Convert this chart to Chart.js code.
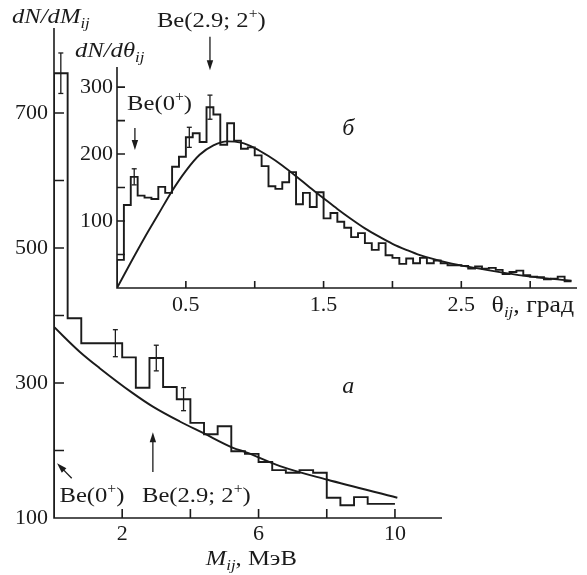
<!DOCTYPE html>
<html>
<head>
<meta charset="utf-8">
<script src="https://cdn.jsdelivr.net/npm/chart.js@4.4.0/dist/chart.umd.min.js"></script>
<style>
  html, body { margin: 0; padding: 0; background: #fff; }
  #wrap { position: relative; width: 587px; height: 575px; }
  #wrap canvas { position: absolute; left: 0; top: 0; }
</style>
</head>
<body>
<div id="wrap">
  <canvas id="massChart" width="587" height="575"></canvas>
  <canvas id="angleChart" width="587" height="575"></canvas>
</div>
<script>
var ink = '#1b1b1b';
var serif = '"Liberation Serif", "Times New Roman", serif';

// panel a: dN/dM_ij, bins of 0.4 MeV
var massBinWidth = 0.4;
var massCounts = [759, 396, 359, 359, 359, 338, 293, 337, 294, 276, 241, 224, 236,
                  199, 195, 183, 171, 167, 171, 167, 130, 119, 131, 121, 121];
var massErrX = [0.2, 1.8, 3.0, 3.8];
var massErrY = [759, 359, 337, 276];
var massErr = [30, 20, 19, 17];
var massFitX = [0, 0.76, 1.34, 2.31, 2.9, 3.69, 4.37, 5.25, 5.66, 6.63, 8.0, 10.07];
var massFitY = [383, 346, 322, 285, 265, 243, 226, 204, 197, 177, 157, 130];
var massTicksX = [2, 4, 6, 8, 10];
var massLabelsX = [2, 6, 10];
var massTicksY = [100, 200, 300, 400, 500, 600, 700];
var massLabelsY = [100, 300, 500, 700];

// panel б: dN/dθ_ij, bins of 0.05 deg
var angleBinWidth = 0.05;
var angleCounts = [42, 124, 166, 138, 135, 133, 151, 142, 181, 196, 225, 231, 218, 270, 259,
                   214, 246, 220, 208, 210, 198, 182, 152, 148, 158, 173, 125, 142, 121, 143,
                   104, 112, 99, 90, 76, 82, 67, 57, 67, 49, 45, 36, 44, 37, 45, 37, 41, 37,
                   34, 34, 33, 29, 32, 29, 30, 27, 21, 24, 26, 19, 17, 16, 13, 14, 17, 10];
var angleErrX = [0.125, 0.525, 0.675];
var angleErrY = [166, 225, 270];
var angleErr = [12, 15, 18];
var angleFitX = [0, 0.1, 0.2, 0.3, 0.4, 0.5, 0.6, 0.7, 0.8, 0.9, 1.0, 1.1, 1.2, 1.3, 1.4,
                 1.5, 1.6, 1.7, 1.8, 1.9, 2.0, 2.1, 2.2, 2.4, 2.6, 2.8, 3.0, 3.3];
var angleFitY = [0, 38, 75, 110, 145, 175, 199, 213, 219, 217, 209, 197, 183, 167, 150,
                 134, 118, 103, 89, 77, 66, 57, 49, 38, 30, 23, 17, 11];
var angleTicksX = [0.5, 1, 1.5, 2, 2.5, 3];
var angleLabelsX = [0.5, 1.5, 2.5];
var angleTicksY = [0, 50, 100, 150, 200, 250, 300];
var angleLabelsY = [100, 200, 300];

function histPoints(counts, width, base) {
    var pts = [{ x: 0, y: base }];
    counts.forEach(function (c, i) { pts.push({ x: (i + 1) * width, y: c }); });
    return pts;
}

function fitPoints(xs, ys) {
    return xs.map(function (x, i) { return { x: x, y: ys[i] }; });
}

function errorSets(xs, ys, es) {
    return xs.map(function (x, i) {
        return {
            data: [{ x: x, y: ys[i] - es[i] }, { x: x, y: ys[i] + es[i] }],
            borderColor: ink, borderWidth: 1.3,
            pointStyle: 'line', pointRadius: 2.5, pointBorderColor: ink, pointBorderWidth: 1.3
        };
    });
}

function axis(min, max, ticks, labels, pad, fit) {
    return {
        type: 'linear', min: min, max: max,
        afterBuildTicks: function (s) { s.ticks = ticks.map(function (v) { return { value: v }; }); },
        afterFit: fit,
        grid: { display: false, drawTicks: false },
        border: { display: false },
        ticks: {
            autoSkip: false, maxRotation: 0, padding: pad, color: ink,
            font: { family: serif, size: 22 },
            callback: function (v) { return labels.indexOf(v) >= 0 ? String(v) : ''; }
        }
    };
}

// text runs with sub/superscripts, slightly widened like the scanned serif
function rich(ctx, x, y, parts) {
    var cx = 0;
    ctx.save();
    ctx.translate(x, y);
    ctx.scale(1.12, 1);
    parts.forEach(function (p) {
        ctx.font = (p[2] || '') + ' ' + p[1] + 'px ' + serif;
        ctx.fillText(p[0], cx, p[3] || 0);
        cx += ctx.measureText(p[0]).width;
    });
    ctx.restore();
}

function arrow(ctx, x1, y1, x2, y2) {
    var a = Math.atan2(y2 - y1, x2 - x1), len = 10, half = 3.2;
    ctx.beginPath();
    ctx.moveTo(x1, y1);
    ctx.lineTo(x2 - Math.cos(a) * len * 0.6, y2 - Math.sin(a) * len * 0.6);
    ctx.stroke();
    ctx.beginPath();
    ctx.moveTo(x2, y2);
    ctx.lineTo(x2 - len * Math.cos(a) + half * Math.sin(a), y2 - len * Math.sin(a) - half * Math.cos(a));
    ctx.lineTo(x2 - len * Math.cos(a) - half * Math.sin(a), y2 - len * Math.sin(a) + half * Math.cos(a));
    ctx.closePath();
    ctx.fill();
}

// axis lines and inward ticks
function drawFrame(chart, tickX, tickY) {
    var ctx = chart.ctx, a = chart.chartArea, xs = chart.scales.x, ys = chart.scales.y;
    ctx.save();
    ctx.strokeStyle = ink;
    ctx.lineWidth = 1.6;
    ctx.beginPath();
    ctx.moveTo(a.left, a.top);
    ctx.lineTo(a.left, a.bottom);
    ctx.lineTo(a.right, a.bottom);
    xs.ticks.forEach(function (t) {
        var px = xs.getPixelForValue(t.value);
        ctx.moveTo(px, a.bottom);
        ctx.lineTo(px, a.bottom - tickX);
    });
    ys.ticks.forEach(function (t) {
        if (t.value === ys.min) return;
        var py = ys.getPixelForValue(t.value);
        ctx.moveTo(a.left, py);
        ctx.lineTo(a.left + tickY, py);
    });
    ctx.stroke();
    ctx.restore();
}

var massDecor = {
    id: 'massDecor',
    afterDraw: function (chart) {
        var ctx = chart.ctx, a = chart.chartArea, xs = chart.scales.x, ys = chart.scales.y;
        drawFrame(chart, 9, 10);
        ctx.save();
        ctx.fillStyle = ink;
        ctx.strokeStyle = ink;
        ctx.lineWidth = 1.3;
        rich(ctx, a.left - 42, a.top - 5, [['dN/dM', 22, 'italic'], ['ij', 15, 'italic', 5]]);
        rich(ctx, xs.getPixelForValue(4.45), a.bottom + 47,
             [['M', 22, 'italic'], ['ij', 15, 'italic', 5], [', МэВ', 22]]);
        var base = ys.getPixelForValue(124);
        rich(ctx, xs.getPixelForValue(0.16), base, [['Be(0', 22], ['+', 14, '', -9], [')', 22]]);
        rich(ctx, xs.getPixelForValue(2.58), base, [['Be(2.9; 2', 22], ['+', 14, '', -9], [')', 22]]);
        arrow(ctx, xs.getPixelForValue(0.52), ys.getPixelForValue(159),
                   xs.getPixelForValue(0.09), ys.getPixelForValue(181));
        arrow(ctx, xs.getPixelForValue(2.9), ys.getPixelForValue(168),
                   xs.getPixelForValue(2.9), ys.getPixelForValue(227));
        ctx.textAlign = 'center';
        ctx.font = 'italic 24px ' + serif;
        ctx.fillText('а', xs.getPixelForValue(8.63), ys.getPixelForValue(285));
        ctx.restore();
    }
};

var angleDecor = {
    id: 'angleDecor',
    afterDraw: function (chart) {
        var ctx = chart.ctx, a = chart.chartArea, xs = chart.scales.x, ys = chart.scales.y;
        drawFrame(chart, 7, 8);
        ctx.save();
        ctx.fillStyle = ink;
        ctx.strokeStyle = ink;
        ctx.lineWidth = 1.3;
        rich(ctx, a.left - 42, a.top - 10, [['dN/dθ', 22, 'italic'], ['ij', 15, 'italic', 5]]);
        rich(ctx, xs.getPixelForValue(2.72), a.bottom + 24,
             [['θ', 23], ['ij', 15, 'italic', 5], [', град', 23]]);
        rich(ctx, xs.getPixelForValue(0.29), ys.getPixelForValue(390),
             [['Be(2.9; 2', 22], ['+', 14, '', -9], [')', 22]]);
        rich(ctx, xs.getPixelForValue(0.073), ys.getPixelForValue(266),
             [['Be(0', 22], ['+', 14, '', -9], [')', 22]]);
        arrow(ctx, xs.getPixelForValue(0.675), ys.getPixelForValue(375),
                   xs.getPixelForValue(0.675), ys.getPixelForValue(325));
        arrow(ctx, xs.getPixelForValue(0.13), ys.getPixelForValue(239),
                   xs.getPixelForValue(0.13), ys.getPixelForValue(206));
        ctx.textAlign = 'center';
        ctx.font = 'italic 24px ' + serif;
        ctx.fillText('б', xs.getPixelForValue(1.68), ys.getPixelForValue(228));
        ctx.restore();
    }
};

var stepStyle = { stepped: 'after', borderColor: ink, borderWidth: 1.9, pointRadius: 0, fill: false };
var fitStyle = { cubicInterpolationMode: 'monotone', borderColor: ink, borderWidth: 1.9, pointRadius: 0, fill: false };

var massChart = new Chart(document.getElementById('massChart'), {
    type: 'line',
    data: {
        datasets: [
            Object.assign({ data: histPoints(massCounts, massBinWidth, 100) }, stepStyle),
            Object.assign({ data: fitPoints(massFitX, massFitY) }, fitStyle)
        ].concat(errorSets(massErrX, massErrY, massErr))
    },
    options: {
        responsive: false,
        animation: false,
        devicePixelRatio: 1,
        layout: { padding: { left: 0, right: 145, top: 28, bottom: 0 } },
        plugins: { legend: { display: false }, tooltip: { enabled: false } },
        scales: {
            x: axis(0, 11.38, massTicksX, massLabelsX, 3, function (s) { s.height = 57; }),
            y: axis(100, 826, massTicksY, massLabelsY, 6, function (s) { s.width = 54; })
        }
    },
    plugins: [massDecor]
});

var angleChart = new Chart(document.getElementById('angleChart'), {
    type: 'line',
    data: {
        datasets: [
            Object.assign({ data: histPoints(angleCounts, angleBinWidth, 0) }, stepStyle),
            Object.assign({ data: fitPoints(angleFitX, angleFitY) }, fitStyle)
        ].concat(errorSets(angleErrX, angleErrY, angleErr))
    },
    options: {
        responsive: false,
        animation: false,
        devicePixelRatio: 1,
        layout: { padding: { left: 0, right: 10, top: 67, bottom: 257 } },
        plugins: { legend: { display: false }, tooltip: { enabled: false } },
        scales: {
            x: axis(0, 3.34, angleTicksX, angleLabelsX, 4, function (s) { s.height = 30; }),
            y: axis(0, 330, angleTicksY, angleLabelsY, 4, function (s) { s.width = 117; })
        }
    },
    plugins: [angleDecor]
});
</script>
</body>
</html>
